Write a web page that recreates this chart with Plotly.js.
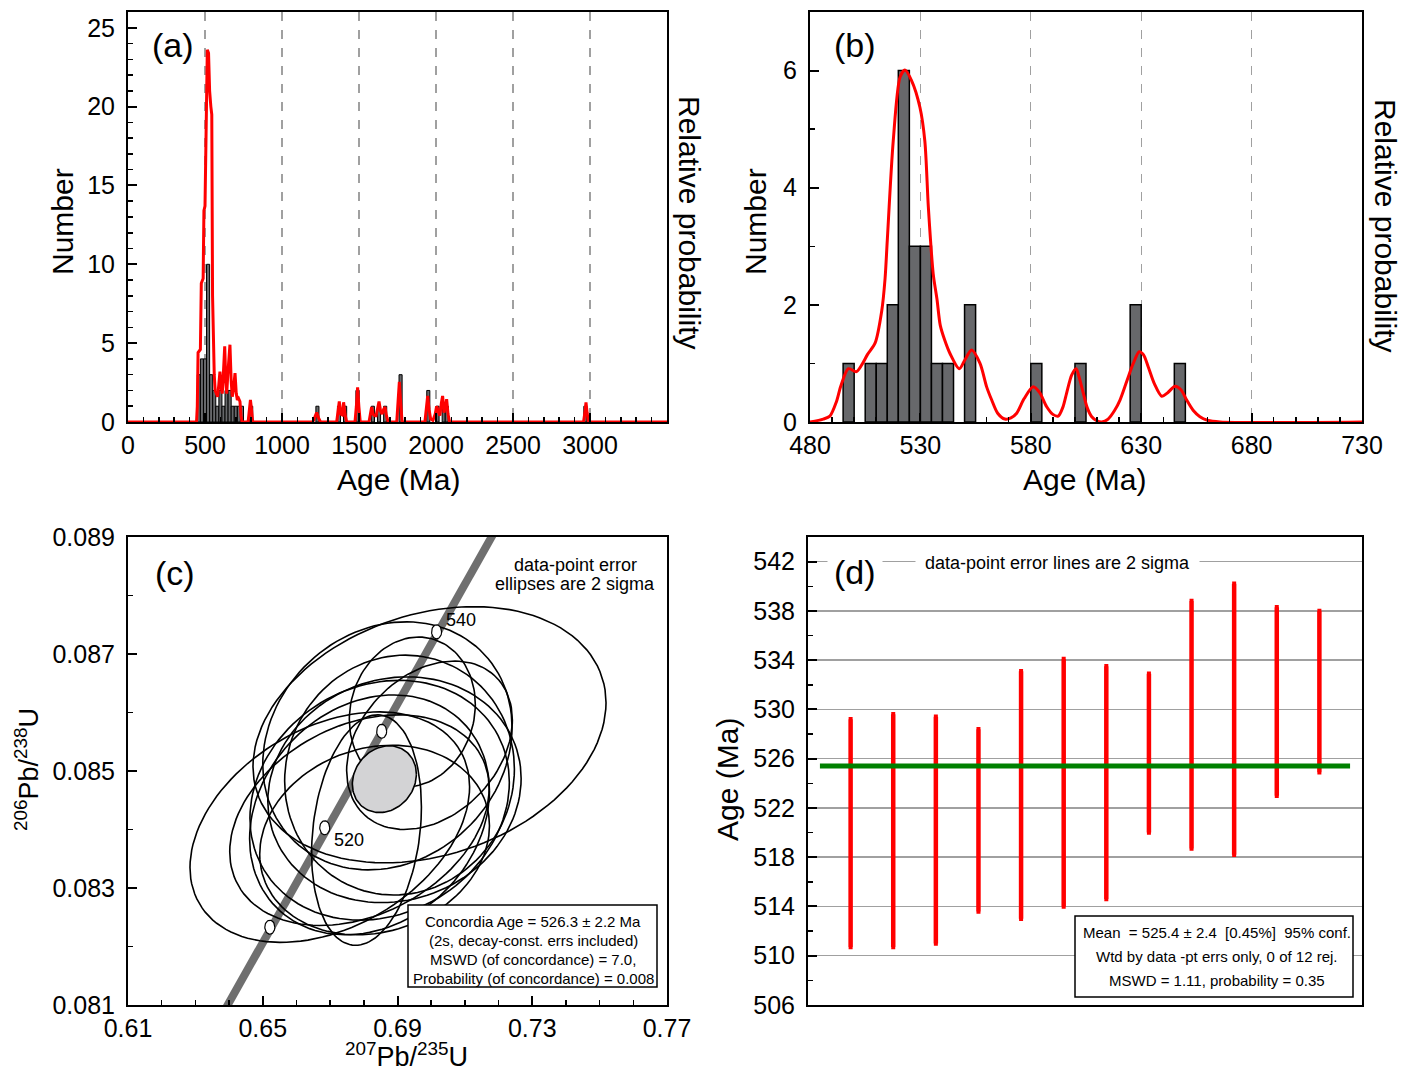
<!DOCTYPE html>
<html><head><meta charset="utf-8">
<script src="https://cdn.plot.ly/plotly-3.0.1.min.js"></script>
<style>body{margin:0;background:#fff}</style>
</head><body><div id="chart" style="width:1416px;height:1074px"></div>
<script>
// ---------- Panel (a): all ages, 20 Ma bins ----------
const aBinWidth = 20;
const aBinLeft  = [450,470,490,510,530,550,570,590,610,630,650,670,690,710,730,790,1220,1360,1400,1480,1580,1620,1660,1760,1940,2000,2040,2060,2960];
const aBinCount = [3,4,4,10,3,2,1,2,1,2,2,1,1,1,1,1,1,1,1,2,1,1,1,3,2,1,1,1,1];
const aCurveAge = [0,445,450,455,470,476,488,493,500,507,
  515,523,530,538,544,549,552,556,560,566,
  575,582,590,597,605,612,620,628,635,641,
  648,655,662,670,677,686,695,703,710,718,
  727,734,740,780,788,795,802,810,1200,1212,
  1225,1238,1250,1355,1364,1372,1381,1391,1400,1409,
  1420,1474,1483,1491,1499,1508,1565,1574,1582,1591,
  1601,1611,1621,1630,1640,1650,1660,1669,1678,1690,
  1745,1754,1762,1770,1780,1928,1938,1946,1955,1965,
  1980,1995,2004,2013,2025,2035,2043,2052,2060,2069,
  2078,2088,2958,2967,2974,2981,2990,3500];
const aCurveVal = [0,0,1,4.4,4.6,8.8,9.1,13.4,13.7,19,
  23.6,23.4,21,20,19.5,8,6.2,6.0,3,2.0,
  1.8,1.6,2.4,3.2,2.2,1.8,3.2,4.8,2.6,1.8,
  3.0,4.0,4.9,2.6,1.6,2.2,3.1,1.8,1.4,1.5,
  1.3,0.4,0,0,0.8,1.4,0.8,0,0,0.25,
  0.6,0.25,0,0,0.6,1.3,0.5,0.45,1.25,0.5,
  0,0,1.0,2.2,1.0,0,0,0.5,0.95,0.5,
  0.4,0.4,1.0,1.3,0.7,0.5,0.8,0.95,0.4,0,
  0,1.3,2.55,1.3,0,0,1.0,1.65,0.8,0.2,
  0.1,0.5,1.0,0.7,0.4,1.2,1.65,0.6,0.9,1.45,
  0.5,0,0,0.6,1.25,0.6,0,0];
const aTickVals = [0,500,1000,1500,2000,2500,3000];

// ---------- Panel (b): 480-730 Ma, 5 Ma bins ----------
const bBinWidth = 5;
const bBinLeft  = [495,505,510,515,520,525,530,535,540,550,580,600,625,645];
const bBinCount = [1,1,1,2,6,3,3,1,1,2,1,1,2,1];
const bCurveAge = [480,486,489,492,494,497.4,501,503.5,506,509.5,512.5,514,515,517.7,520.8,523,526,529.8,532,533.6,535.8,537.5,539,541,543.4,547.6,550,553.2,557,560,562.3,565,568.3,571,573.6,577,581.1,584,587.2,590,592.4,594.5,596.2,598.5,600.5,602,603.8,605.5,607.6,610,612.1,615,618,620.4,623.5,626.4,629.1,631,633.2,636,639.3,642,645.3,648,650.6,653.5,656.6,660,665.7,730];
const bCurveVal = [0,0.05,0.1,0.35,0.62,0.91,0.86,0.98,1.15,1.35,1.9,2.45,3.1,4.8,5.89,6.01,5.83,5.37,4.8,3.67,2.53,2.1,1.65,1.4,1.17,0.91,1.05,1.23,1.0,0.6,0.375,0.15,0.05,0.07,0.15,0.4,0.6,0.5,0.26,0.13,0.1,0.25,0.49,0.8,0.91,0.75,0.49,0.25,0.09,0.02,0,0.05,0.2,0.375,0.7,1.0,1.2,1.15,0.94,0.65,0.44,0.5,0.61,0.55,0.375,0.2,0.09,0.03,0,0];

// ---------- Panel (c): concordia ----------
const ellCx  = [0.6995,0.6699,0.6870,0.6944,0.6891,0.6847,0.6817,0.6808,0.6995,0.6832,0.6787,0.6906];
const ellCy  = [0.08562,0.08404,0.08543,0.08601,0.08468,0.08450,0.08425,0.08399,0.08544,0.08382,0.08416,0.08493];
const ellSx  = [0.0524,0.0415,0.0370,0.0187,0.0376,0.0385,0.0356,0.0163,0.0246,0.0341,0.0385,0.0341];
const ellSy  = [0.00219,0.00197,0.00212,0.00128,0.00193,0.00205,0.00205,0.00197,0.00144,0.00162,0.00180,0.00205];
const ellRho = [0.25,0.35,0.15,0.10,0.10,0.15,0.20,0.20,0.30,0.15,0.30,0.05];
const concAgeEll = [0.6861,0.08486,0.0095,0.00057,0.15]; // cx, cy, sx, sy, rho
const concordiaX = [0.6386,0.7189];
const concordiaY = [0.0809,0.0891];
const cMarkAge = [510,520,530,540];
const cMarkX = [0.6521,0.6684,0.6853,0.7016];
const cMarkY = [0.08233,0.08403,0.08568,0.08738];
const cMarkLabelled = [520,540];
const cLabelShiftY = {520:-12, 540:12};
const cXTicks = [0.61,0.65,0.69,0.73,0.77];
const cYTicks = [0.081,0.083,0.085,0.087,0.089];

// ---------- Panel (d): weighted mean ----------
const dAge = [519.95,520.15,520.2,521.0,523.05,524.05,524.05,526.45,528.75,529.2,530.65,531.45];
const dErr2s = [9.25,9.45,9.2,7.4,10.05,10.05,9.45,6.45,10.05,11.0,7.65,6.55];
const dMean = 525.4;
const dYTicks = [506,510,514,518,522,526,530,534,538,542];

// ---------------------------------------------------
const FONT = 'Liberation Sans, Arial, sans-serif';
const px = (x)=>x/1416, py = (y)=>1 - y/1074;

function ellipse(cx,cy,sx,sy,rho,n){
  n = n||120; const xs=[], ys=[]; const k=Math.sqrt(1-rho*rho);
  for(let i=0;i<=n;i++){const t=2*Math.PI*i/n; xs.push(cx+sx*Math.cos(t)); ys.push(cy+sy*(rho*Math.cos(t)+k*Math.sin(t)));}
  return {xs,ys};
}

const traces = [];
// (a)
traces.push({type:'bar', x:aBinLeft.map(v=>v+aBinWidth/2), y:aBinCount, width:aBinWidth, xaxis:'x', yaxis:'y',
  marker:{color:'#67686b', line:{color:'#000', width:1}}, hoverinfo:'skip'});
traces.push({type:'scatter', mode:'lines', x:aCurveAge, y:aCurveVal, xaxis:'x', yaxis:'y',
  line:{color:'#ff0000', width:3}, hoverinfo:'skip'});
// (b)
traces.push({type:'bar', x:bBinLeft.map(v=>v+bBinWidth/2), y:bBinCount, width:bBinWidth, xaxis:'x2', yaxis:'y2',
  marker:{color:'#67686b', line:{color:'#000', width:1.5}}, hoverinfo:'skip'});
traces.push({type:'scatter', mode:'lines', x:bCurveAge, y:bCurveVal, xaxis:'x2', yaxis:'y2',
  line:{color:'#ff0000', width:3, shape:'spline', smoothing:0.8}, hoverinfo:'skip'});
// (c)
traces.push({type:'scatter', mode:'lines', x:concordiaX, y:concordiaY, xaxis:'x3', yaxis:'y3',
  line:{color:'#6f6f6f', width:8}, hoverinfo:'skip'});
for(let i=0;i<ellCx.length;i++){
  const e = ellipse(ellCx[i],ellCy[i],ellSx[i],ellSy[i],ellRho[i]);
  traces.push({type:'scatter', mode:'lines', x:e.xs, y:e.ys, xaxis:'x3', yaxis:'y3',
    line:{color:'#000', width:1.6}, hoverinfo:'skip'});
}
{
  const e = ellipse(concAgeEll[0],concAgeEll[1],concAgeEll[2],concAgeEll[3],concAgeEll[4]);
  traces.push({type:'scatter', mode:'lines', x:e.xs, y:e.ys, xaxis:'x3', yaxis:'y3', fill:'toself',
    fillcolor:'#d3d3d5', line:{color:'#000', width:1.6}, hoverinfo:'skip'});
}
for(let i=0;i<cMarkX.length;i++){
  const e = ellipse(cMarkX[i],cMarkY[i],5/3370,7/58500,0,40);
  traces.push({type:'scatter', mode:'lines', x:e.xs, y:e.ys, xaxis:'x3', yaxis:'y3', fill:'toself',
    fillcolor:'#ffffff', line:{color:'#000', width:1.2}, hoverinfo:'skip'});
}
// (d)
const dX = dAge.map((v,i)=>i+1);
traces.push({type:'scatter', mode:'markers', x:dX, y:dAge, xaxis:'x4', yaxis:'y4',
  marker:{size:1, color:'#ff0000', opacity:0},
  error_y:{type:'data', array:dErr2s, visible:true, color:'#ff0000', thickness:4.5, width:2}, hoverinfo:'skip'});
traces.push({type:'scatter', mode:'lines', x:[1-0.72, dAge.length+0.72], y:[dMean,dMean], xaxis:'x4', yaxis:'y4',
  line:{color:'#008000', width:5}, hoverinfo:'skip'});

function ax(extra){
  return Object.assign({showline:true, linecolor:'#000', linewidth:2, mirror:true, ticks:'inside', ticklen:9,
    tickwidth:2, tickcolor:'#000', tickfont:{family:FONT, size:25, color:'#000'}, zeroline:false,
    showgrid:false, fixedrange:true, ticklabelstandoff:6}, extra);
}
const minor = (d,t0)=>({ticks:'inside', ticklen:5, tickwidth:1.5, tickcolor:'#000', dtick:d, tick0:t0, showgrid:false});

const layout = {
  width:1416, height:1074, margin:{l:0,r:0,t:0,b:0}, showlegend:false,
  paper_bgcolor:'#fff', plot_bgcolor:'#fff', font:{family:FONT, color:'#000'},
  barmode:'overlay',
  xaxis: ax({domain:[px(128),px(667)], anchor:'y', range:[0,3500], tickmode:'array', tickvals:aTickVals,
    ticklabelstandoff:0, showgrid:true, gridcolor:'#a0a0a0', griddash:'dash', gridwidth:1.2, minor:minor(100,0)}),
  yaxis: ax({domain:[py(422),py(12)], anchor:'x', range:[0,26], tickmode:'linear', tick0:0, dtick:5, minor:minor(1,0)}),
  xaxis2: ax({domain:[px(810),px(1362)], anchor:'y2', range:[480,730], tickmode:'linear', tick0:480, dtick:50,
    ticklabelstandoff:0, showgrid:true, gridcolor:'#a0a0a0', griddash:'dash', gridwidth:1.2, minor:minor(10,480)}),
  yaxis2: ax({domain:[py(422),py(12)], anchor:'x2', range:[0,7], tickmode:'linear', tick0:0, dtick:2, minor:minor(1,0)}),
  xaxis3: ax({domain:[px(128),px(667)], anchor:'y3', range:[0.61,0.77], tickmode:'array', tickvals:cXTicks,
    ticklabelstandoff:0, ticktext:cXTicks.map(v=>v.toFixed(2)), minor:minor(0.01,0.61)}),
  yaxis3: ax({domain:[py(1005),py(537)], anchor:'x3', range:[0.081,0.089], tickmode:'array', tickvals:cYTicks,
    ticktext:cYTicks.map(v=>v.toFixed(3)), minor:minor(0.001,0.081)}),
  xaxis4: ax({domain:[px(808),px(1362)], anchor:'y4', range:[0,13], ticks:'', showticklabels:false}),
  yaxis4: ax({domain:[py(1005),py(537)], anchor:'x4', range:[506,544], tickmode:'array', tickvals:dYTicks,
    showgrid:true, gridcolor:'#a0a0a0', gridwidth:1.5, minor:minor(2,506)}),
  shapes:[
    {type:'rect', xref:'paper', yref:'paper', x0:px(408), x1:px(657), y0:py(987), y1:py(905),
      line:{color:'#000', width:1.5}, fillcolor:'#fff', layer:'above'},
    {type:'rect', xref:'paper', yref:'paper', x0:px(1075), x1:px(1353), y0:py(997), y1:py(916),
      line:{color:'#000', width:1.5}, fillcolor:'#fff', layer:'above'}
  ],
  annotations:[]
};

function ann(text,x,y,size,extra){
  layout.annotations.push(Object.assign({text:text, xref:'paper', yref:'paper', x:x, y:y, xanchor:'center',
    yanchor:'middle', showarrow:false, font:{family:FONT, size:size, color:'#000'}}, extra||{}));
}
// panel labels
ann('(a)', px(173), py(45), 34);
ann('(b)', px(855), py(45), 34);
ann('(c)', px(175), py(573), 34);
ann('(d)', px(855), py(572), 34, {bgcolor:'#fff', borderpad:6});
// axis titles
ann('Number', px(62), py(222), 30, {textangle:-90});
ann('Age (Ma)', px(398), py(480), 30);
ann('Relative probability', px(690), py(222), 30, {textangle:90});
ann('Number', px(755), py(222), 30, {textangle:-90});
ann('Age (Ma)', px(1084), py(480), 30);
ann('Relative probability', px(1385), py(225), 30, {textangle:90});
ann('<sup>206</sup>Pb/<sup>238</sup>U', px(27), py(770), 27, {textangle:-90});
ann('<sup>207</sup>Pb/<sup>235</sup>U', px(407), py(1073), 27, {yanchor:'bottom', borderpad:0});
ann('Age (Ma)', px(727), py(780), 30, {textangle:-90});
// panel (c) texts
ann('data-point error', px(575), py(565), 18);
ann('ellipses are 2 sigma', px(575), py(584), 18);
cMarkAge.forEach((a,i)=>{
  if(cMarkLabelled.indexOf(a)>=0){
    layout.annotations.push({text:String(a), xref:'x3', yref:'y3', x:cMarkX[i], y:cMarkY[i], xanchor:'left',
      yanchor:'middle', xshift:7, yshift:cLabelShiftY[a], showarrow:false, font:{family:FONT, size:18, color:'#000'}});
  }
});
const cBox = ['Concordia Age = 526.3 \u00b1 2.2 Ma','(2s, decay-const. errs included)','MSWD (of concordance) = 7.0,','Probability (of concordance) = 0.008'];
const cBoxY = [921.5,940.5,959.5,978.5];
cBox.forEach((t,i)=>ann(t, px(533), py(cBoxY[i]), 15));
// panel (d) texts
ann('data-point error lines are 2 sigma', px(1057), py(563), 18, {bgcolor:'#fff', borderpad:9});
const dBox = ['Mean\u00a0 = 525.4 \u00b1 2.4 \u00a0[0.45%] \u00a095% conf.','Wtd by data -pt errs only, 0 of 12 rej.','MSWD = 1.11, probability = 0.35'];
const dBoxY = [932,956.5,980];
dBox.forEach((t,i)=>ann(t, px(1217), py(dBoxY[i]), 15));

Plotly.newPlot('chart', traces, layout, {displayModeBar:false, staticPlot:true});
</script></body></html>
